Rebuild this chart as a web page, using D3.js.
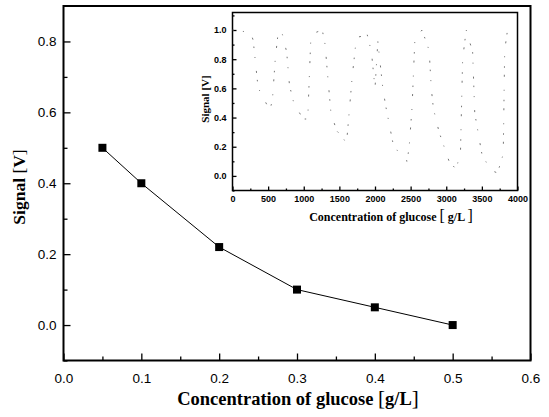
<!DOCTYPE html>
<html><head><meta charset="utf-8">
<script src="https://cdn.jsdelivr.net/npm/d3@7"></script>
<style>body{margin:0;background:#fff}svg{display:block}</style>
</head><body>
<svg id="chart" width="549" height="417"></svg>
<script>
// ---- data ----
const concentration = [0.05, 0.1, 0.2, 0.3, 0.4, 0.5];
const signal = [0.5, 0.4, 0.22, 0.1, 0.05, 0.0];
const xTickValues = [0, 0.1, 0.2, 0.3, 0.4, 0.5, 0.6];
const yTickValues = [0, 0.2, 0.4, 0.6, 0.8];
const xMinorTicks = [0.05, 0.15, 0.25, 0.35, 0.45, 0.55];
const yMinorTicks = [-0.1, 0.1, 0.3, 0.5, 0.7];

const insetX = [0, 120, 250, 290, 320, 360, 400, 450, 500, 540, 560, 600, 640, 700, 760, 800, 860, 920, 990, 1040, 1060, 1080, 1100, 1150, 1260, 1300, 1330, 1380, 1460, 1540, 1600, 1640, 1680, 1740, 1850, 1890, 1950, 2000, 2040, 2110, 2150, 2250, 2340, 2450, 2480, 2520, 2560, 2660, 2760, 2790, 2820, 2900, 3040, 3140, 3200, 3230, 3280, 3370, 3400, 3500, 3620, 3720, 3800, 3820, 3860];
const insetY = [1.0, 0.99, 0.99, 0.93, 0.79, 0.60, 0.57, 0.52, 0.47, 0.48, 0.52, 0.80, 0.98, 0.97, 0.85, 0.62, 0.50, 0.45, 0.39, 0.39, 0.44, 0.70, 0.95, 0.98, 1.0, 0.90, 0.72, 0.44, 0.31, 0.27, 0.22, 0.45, 0.68, 0.95, 0.96, 0.97, 0.85, 0.60, 0.92, 0.60, 0.48, 0.23, 0.15, 0.10, 0.20, 0.47, 0.94, 1.0, 0.86, 0.60, 0.46, 0.30, 0.10, 0.045, 0.17, 0.80, 1.0, 0.85, 0.43, 0.15, 0.04, 0.02, 0.15, 0.86, 1.0];
const insetXTicks = [0, 500, 1000, 1500, 2000, 2500, 3000, 3500, 4000];
const insetXMinor = [250, 750, 1250, 1750, 2250, 2750, 3250, 3750];
const insetYTicks = [0, 0.2, 0.4, 0.6, 0.8, 1.0];
const insetYMinor = [-0.1, 0.1, 0.3, 0.5, 0.7, 0.9, 1.1];

const xTitle = "Concentration of glucose";
const xUnit = "g/L";
const yTitle = "Signal ";
const yUnit = "V";

// ---- drawing ----
const svg = d3.select("#chart");
const SANS = "'Liberation Sans', Arial, sans-serif";
const SERIF = "'Liberation Serif', 'Times New Roman', serif";

const x = d3.scaleLinear().domain([0, 0.6]).range([63.5, 530.5]);
const y = d3.scaleLinear().domain([-0.1, 0.9]).range([360.5, 6]);

const main = svg.append("g");

function styleAxis(g, size) {
  g.select(".domain").remove();
  g.selectAll("line").attr("stroke", "#000").attr("stroke-width", 1.3);
  g.selectAll("text").attr("font-family", SANS).attr("font-size", size).attr("fill", "#000");
}

main.append("g").attr("transform", `translate(0,${y(-0.1)})`)
  .call(d3.axisBottom(x).tickValues(xTickValues).tickSize(-7).tickPadding(13).tickFormat(d3.format(".1f")))
  .call(g => styleAxis(g, 13.5));
main.append("g").attr("transform", `translate(0,${y(-0.1)})`)
  .call(d3.axisBottom(x).tickValues(xMinorTicks).tickSize(-4).tickFormat(""))
  .call(g => styleAxis(g, 13.5));
main.append("g").attr("transform", `translate(${x(0)},0)`)
  .call(d3.axisLeft(y).tickValues(yTickValues).tickSize(-7).tickPadding(7).tickFormat(d3.format(".1f")))
  .call(g => styleAxis(g, 13.5));
main.append("g").attr("transform", `translate(${x(0)},0)`)
  .call(d3.axisLeft(y).tickValues(yMinorTicks).tickSize(-4).tickFormat(""))
  .call(g => styleAxis(g, 13.5));

main.append("rect")
  .attr("x", x(0)).attr("y", y(0.9))
  .attr("width", x(0.6) - x(0)).attr("height", y(-0.1) - y(0.9))
  .attr("fill", "none").attr("stroke", "#000").attr("stroke-width", 2);

const pts = concentration.map((c, i) => [c, signal[i]]);
main.append("path").datum(pts)
  .attr("fill", "none").attr("stroke", "#000").attr("stroke-width", 1)
  .attr("d", d3.line().x(d => x(d[0])).y(d => y(d[1])));
main.selectAll("rect.pt").data(pts).enter().append("rect").attr("class", "pt")
  .attr("x", d => x(d[0]) - 4).attr("y", d => y(d[1]) - 4)
  .attr("width", 8).attr("height", 8).attr("fill", "#000");

const xt = main.append("text").attr("x", 298).attr("y", 405)
  .attr("text-anchor", "middle").attr("font-family", SERIF)
  .attr("font-weight", "bold").attr("font-size", 18.5).attr("fill", "#000");
xt.append("tspan").text(xTitle + " ");
xt.append("tspan").attr("font-weight", "normal").attr("font-size", 21).text("[");
xt.append("tspan").text(xUnit);
xt.append("tspan").attr("font-weight", "normal").attr("font-size", 21).text("]");

const yt = main.append("text")
  .attr("transform", `translate(25,187) rotate(-90)`)
  .attr("text-anchor", "middle").attr("font-family", SERIF)
  .attr("font-weight", "bold").attr("font-size", 17.5).attr("fill", "#000");
yt.append("tspan").text(yTitle);
yt.append("tspan").attr("font-weight", "normal").text("[");
yt.append("tspan").text(yUnit);
yt.append("tspan").attr("font-weight", "normal").text("]");

// ---- inset ----
const ix = d3.scaleLinear().domain([0, 4000]).range([232.5, 517.5]);
const iy = d3.scaleLinear().domain([-0.1, 1.12]).range([190.5, 12.5]);
const inset = svg.append("g");

inset.append("rect")
  .attr("x", ix(0)).attr("y", iy(1.12))
  .attr("width", ix(4000) - ix(0)).attr("height", iy(-0.1) - iy(1.12))
  .attr("fill", "#fff");

inset.append("g").attr("transform", `translate(0,${iy(-0.1)})`)
  .call(d3.axisBottom(ix).tickValues(insetXTicks).tickSize(-4).tickPadding(5).tickFormat(d3.format("d")))
  .call(g => styleAxis(g, 9));
inset.append("g").attr("transform", `translate(0,${iy(-0.1)})`)
  .call(d3.axisBottom(ix).tickValues(insetXMinor).tickSize(-2).tickFormat(""))
  .call(g => styleAxis(g, 9));
inset.append("g").attr("transform", `translate(${ix(0)},0)`)
  .call(d3.axisLeft(iy).tickValues(insetYTicks).tickSize(-4).tickPadding(6).tickFormat(d3.format(".1f")))
  .call(g => styleAxis(g, 9));
inset.append("g").attr("transform", `translate(${ix(0)},0)`)
  .call(d3.axisLeft(iy).tickValues(insetYMinor).tickSize(-2).tickFormat(""))
  .call(g => styleAxis(g, 9));
inset.selectAll("text").attr("font-weight", "bold");

inset.append("rect")
  .attr("x", ix(0)).attr("y", iy(1.12))
  .attr("width", ix(4000) - ix(0)).attr("height", iy(-0.1) - iy(1.12))
  .attr("fill", "none").attr("stroke", "#000").attr("stroke-width", 1.5);

const ipts = insetX.map((v, i) => [v, insetY[i]]);
inset.append("path").datum(ipts)
  .attr("fill", "none").attr("stroke", "#666").attr("stroke-width", 0.9)
  .attr("stroke-dasharray", "1.5,9,1,13,2,7")
  .attr("d", d3.line().x(d => ix(d[0])).y(d => iy(d[1])));

const ixt = inset.append("text").attr("x", 391).attr("y", 221)
  .attr("text-anchor", "middle").attr("font-family", SERIF)
  .attr("font-weight", "bold").attr("font-size", 12).attr("fill", "#000");
ixt.append("tspan").text(xTitle + " ");
ixt.append("tspan").attr("font-weight", "normal").attr("font-size", 16).text("[");
ixt.append("tspan").text(" " + xUnit + " ");
ixt.append("tspan").attr("font-weight", "normal").attr("font-size", 16).text("]");

const iyt = inset.append("text")
  .attr("transform", `translate(209,99) rotate(-90)`)
  .attr("text-anchor", "middle").attr("font-family", SERIF)
  .attr("font-weight", "bold").attr("font-size", 11).attr("fill", "#000");
iyt.append("tspan").text(yTitle);
iyt.append("tspan").text("[");
iyt.append("tspan").text(yUnit);
iyt.append("tspan").text("]");
</script>
</body></html>
